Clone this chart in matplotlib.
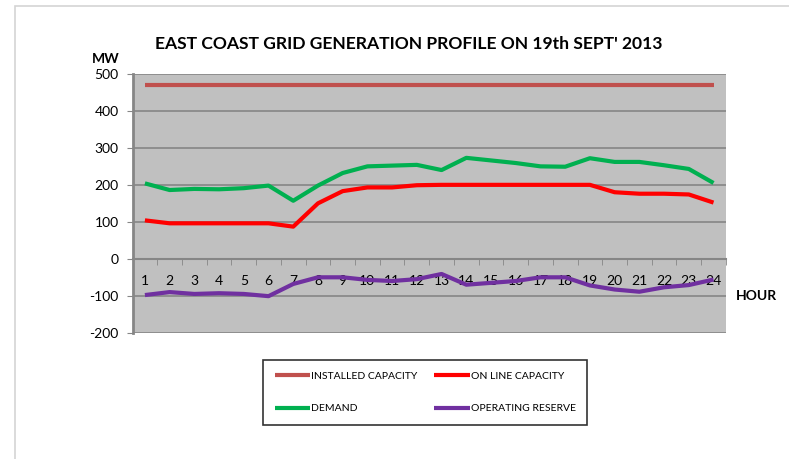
#generate graph
import matplotlib
matplotlib.use("Agg")
import matplotlib.pyplot as plt
from matplotlib.patches import Rectangle

plt.rcParams['font.family'] = ['Lato', 'DejaVu Sans']
plt.rcParams['axes.unicode_minus'] = False

hours = list(range(1, 25))
installed = [469] * 24
online = [104, 96, 96, 96, 96, 96, 87, 150, 183, 193, 193, 199,
          200, 200, 200, 200, 200, 200, 200, 180, 176, 176, 174, 152]
demand = [204, 186, 189, 188, 191, 198, 157, 198, 232, 250, 252, 254,
          240, 273, 266, 259, 250, 249, 272, 262, 262, 253, 243, 205]
reserve = [-98, -90, -95, -93, -95, -101, -68, -50, -50, -57, -60, -55,
           -41, -70, -65, -60, -50, -50, -72, -83, -89, -77, -71, -56]

labels = ['INSTALLED CAPACITY', 'ON LINE CAPACITY', 'DEMAND', 'OPERATING RESERVE']
colors = ['#C0504D', '#FF0000', '#00B050', '#7030A0']

fig = plt.figure(figsize=(7.89, 4.59), dpi=100)
# light frame around the chart (cut off on right/bottom)
fig.patches.append(Rectangle((15 / 789, -0.1), 1.2, 1 - 6 / 459 + 0.1,
                             transform=fig.transFigure, fill=False,
                             edgecolor='#d4d4d4', lw=1.2))

ax = fig.add_axes([0.168, 0.275, 0.752, 0.564])
ax.set_facecolor('#C0C0C0')

series = [installed, online, demand, reserve]
handles = []
for vals, lab, col in zip(series, labels, colors):
    ln, = ax.plot(hours, vals, color=col, lw=3, label=lab, solid_capstyle='butt')
    handles.append(ln)

ax.set_xlim(0.5, 24.5)
ax.set_ylim(-200, 500)
ax.set_yticks(range(-200, 501, 100))
ax.set_axisbelow(True)
ax.yaxis.grid(True, color='#868686', lw=1.2)

for s in ['top', 'right']:
    ax.spines[s].set_visible(False)
ax.spines['left'].set_color('#868686')
ax.spines['left'].set_linewidth(2)
ax.spines['bottom'].set_position(('data', 0))
ax.spines['bottom'].set_color('#868686')
ax.spines['bottom'].set_linewidth(1.5)

ax.set_xticks(hours)
ax.set_xticklabels([str(h) for h in hours])
ax.set_xticks([h + 0.5 for h in range(0, 25)], minor=True)
ax.tick_params(axis='x', which='major', length=0, pad=12, labelsize=10)
ax.tick_params(axis='x', which='minor', length=4, color='#868686', direction='out')
ax.tick_params(axis='y', length=4, color='#868686', labelsize=10, pad=6)

fig.text(0.518, 1 - 44 / 459, "EAST COAST GRID GENERATION PROFILE ON 19th SEPT' 2013",
         ha='center', va='center', fontsize=12.6, fontweight='bold')
fig.text(92 / 789, 1 - 59 / 459, 'MW', ha='left', va='center',
         fontsize=10, fontweight='bold')
fig.text(736 / 789, 1 - 296 / 459, 'HOUR', ha='left', va='center',
         fontsize=10, fontweight='bold')

# legend fills by column, so order so rows read installed/online, demand/reserve
order = [0, 2, 1, 3]
leg = fig.legend([handles[i] for i in order], [labels[i] for i in order],
                 loc='center', bbox_to_anchor=(0.539, 0.145), ncol=2,
                 fontsize=7.5, frameon=True, fancybox=False, edgecolor='black',
                 handlelength=3.4, handletextpad=0.1, columnspacing=1.6,
                 labelspacing=2.2, borderpad=1.1)
leg.get_frame().set_linewidth(1.2)

plt.savefig('out.png', dpi=100)
